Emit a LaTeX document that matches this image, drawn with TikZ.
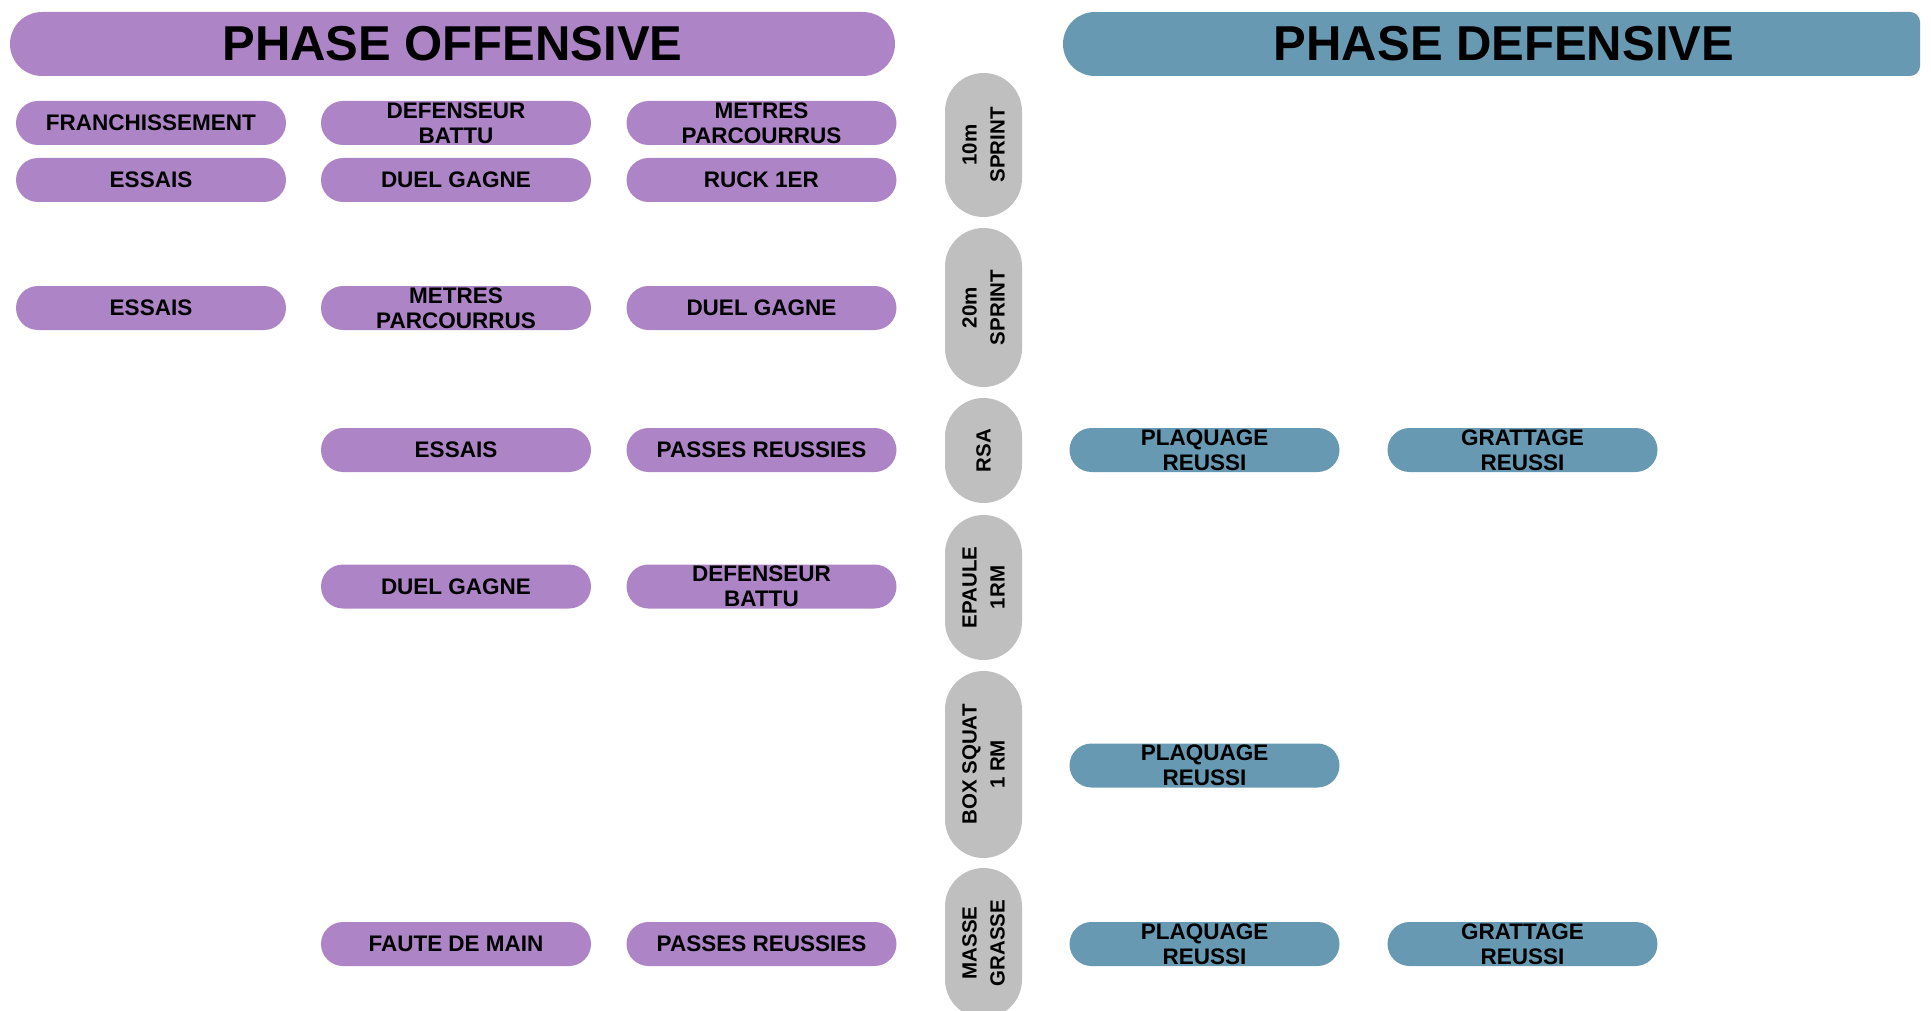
\documentclass[tikz,border=0pt]{standalone}
\usepackage{fontspec}
\setmainfont{Liberation Sans}
\definecolor{offpurple}{RGB}{173,132,198}
\definecolor{defblue}{RGB}{104,153,178}
\definecolor{pillgray}{RGB}{191,191,191}
\begin{document}
\begin{tikzpicture}[x=1pt,y=-1pt,
  pill/.style={rectangle, rounded corners=22pt, minimum width=270pt, minimum height=44pt,
    inner sep=0pt, align=center, font=\bfseries\fontsize{22.5}{25}\selectfont, text=black},
  offpill/.style={pill, fill=offpurple},
  defpill/.style={pill, fill=defblue},
  testpill/.style={rectangle, rounded corners=38.5pt, fill=pillgray, minimum height=77pt,
    inner sep=0pt, rotate=90, align=center, font=\bfseries\fontsize{20.5}{28}\selectfont, text=black},
  headtext/.style={font=\bfseries\fontsize{49}{55}\selectfont, text=black, inner sep=0pt},
  offbar/.style={headtext, rectangle, rounded corners=32pt, fill=offpurple, minimum width=885pt, minimum height=64pt}]
\useasboundingbox (0,0) rectangle (1931,1011);

% headers
\node[offbar] (offhead) at (452.5,44) {PHASE OFFENSIVE};
\fill[defblue] (1095,12) rectangle (1900,76);
\fill[defblue, rounded corners=10pt] (1880,12) rectangle (1920,76);
\fill[defblue] (1095,44) circle[radius=32pt];
\node[headtext] (defhead) at (1504,44) {PHASE DEFENSIVE};

% central test column
\node[testpill, minimum width=144pt] (g1) at (983.5,145) {10m\\SPRINT};
\node[testpill, minimum width=159pt] (g2) at (983.5,307.5) {20m\\SPRINT};
\node[testpill, minimum width=105pt] (g3) at (983.5,450.5) {RSA};
\node[testpill, minimum width=145pt] (g4) at (983.5,587.5) {EPAULE\\1RM};
\node[testpill, minimum width=187pt] (g5) at (983.5,764.5) {BOX SQUAT\\1 RM};
\node[testpill, minimum width=150pt] (g6) at (983.5,943) {MASSE\\GRASSE};

% offensive pills
\node[offpill] (a1) at (151,123) {FRANCHISSEMENT};
\node[offpill] (a2) at (456,123) {DEFENSEUR\\BATTU};
\node[offpill] (a3) at (761.5,123) {METRES\\PARCOURRUS};
\node[offpill] (b1) at (151,180) {ESSAIS};
\node[offpill] (b2) at (456,180) {DUEL GAGNE};
\node[offpill] (b3) at (761.5,180) {RUCK 1ER};
\node[offpill] (c1) at (151,308) {ESSAIS};
\node[offpill] (c2) at (456,308) {METRES\\PARCOURRUS};
\node[offpill] (c3) at (761.5,308) {DUEL GAGNE};
\node[offpill] (d2) at (456,450) {ESSAIS};
\node[offpill] (d3) at (761.5,450) {PASSES REUSSIES};
\node[offpill] (e2) at (456,586.5) {DUEL GAGNE};
\node[offpill] (e3) at (761.5,586.5) {DEFENSEUR\\BATTU};
\node[offpill] (f2) at (456,944) {FAUTE DE MAIN};
\node[offpill] (f3) at (761.5,944) {PASSES REUSSIES};

% defensive pills
\node[defpill] (d4) at (1204.5,450) {PLAQUAGE\\REUSSI};
\node[defpill] (d5) at (1522.5,450) {GRATTAGE\\REUSSI};
\node[defpill] (h4) at (1204.5,765.5) {PLAQUAGE\\REUSSI};
\node[defpill] (f4) at (1204.5,944) {PLAQUAGE\\REUSSI};
\node[defpill] (f5) at (1522.5,944) {GRATTAGE\\REUSSI};
\end{tikzpicture}
\end{document}
